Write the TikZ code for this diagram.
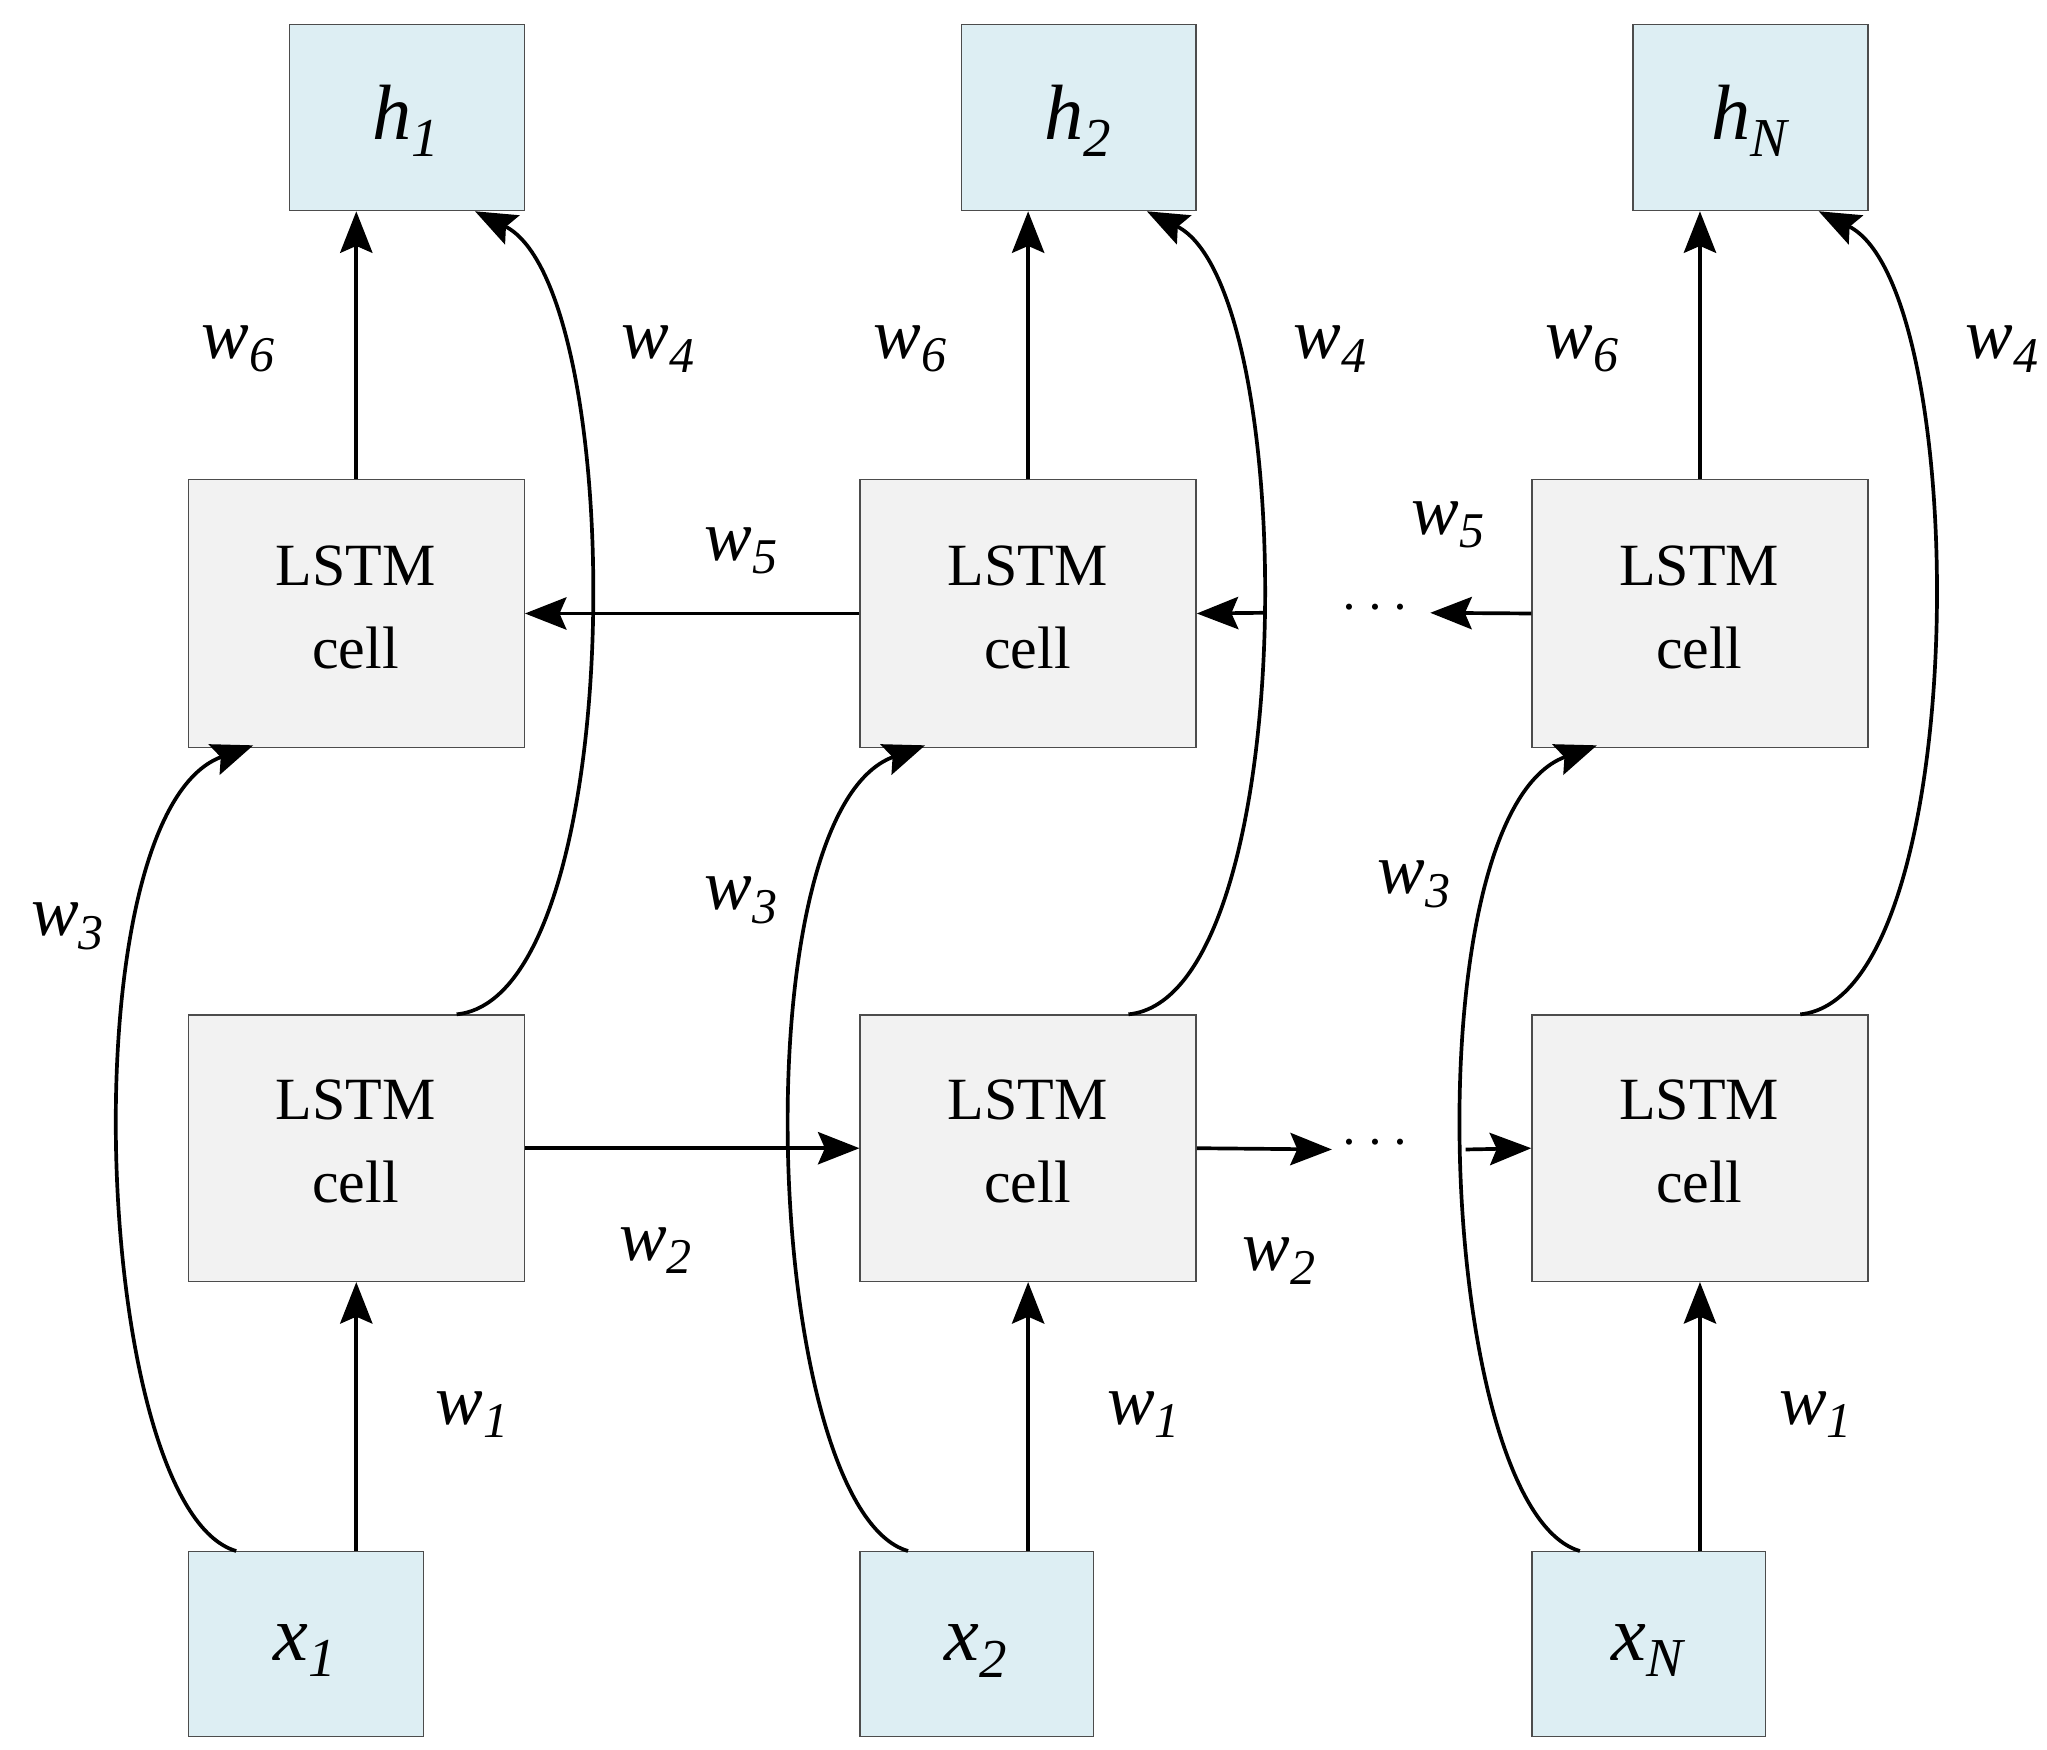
\documentclass[tikz,border=0pt]{standalone}
\usepackage{fontspec}
\setmainfont{Liberation Serif}
\usetikzlibrary{arrows.meta}
\definecolor{lb}{HTML}{DDEEF3}
\definecolor{lg}{HTML}{F2F2F2}
\begin{document}
\begin{tikzpicture}[x=0.02cm,y=-0.02cm,
  io/.style={draw=black!70,line width=0.6pt,fill=lb,inner sep=0,anchor=north west},
  cell/.style={draw=black!70,line width=0.6pt,fill=lg,inner sep=0,anchor=north west},
  con/.style={line width=1.6pt,-{Stealth[length=18pt,width=14pt,inset=3pt]}},
  lab/.style={font=\fontsize{31}{36}\selectfont\itshape},
  big/.style={font=\fontsize{34}{40}\selectfont\itshape},
  txt/.style={font=\fontsize{26}{40}\selectfont,align=center}]
\useasboundingbox (0,0) rectangle (1560,1333);
\foreach \i/\hs/\xs/\xw in {0/1/1/179,1/2/2/178,2/N/N/178}{
  \begin{scope}[xshift=\i*512*0.02cm]
  \node[io,minimum width=179*0.02cm,minimum height=142*0.02cm] (h\i) at (220,18) {};
  \node[big] at (309.5,92) {h\textsubscript{\hs}};
  \node[cell,minimum width=256*0.02cm,minimum height=204*0.02cm] (u\i) at (143,365) {};
  \node[txt] at (271,463) {LSTM\\[-4pt]cell};
  \node[cell,minimum width=256*0.02cm,minimum height=203*0.02cm] (l\i) at (143,773) {};
  \node[txt] at (271,870) {LSTM\\[-4pt]cell};
  \node[io,minimum width=\xw*0.02cm,minimum height=141*0.02cm] (x\i) at (143,1182) {};
  \node[big] at (143+\xw/2,1258) {x\textsubscript{\xs}};
  \draw[con] (x\i.north -| l\i.north) -- (l\i.south);
  \draw[con] (u\i.north) -- (h\i.south -| u\i.north);
  \coordinate (a\i) at (180,1182); \coordinate (b\i) at (193,568);
  \coordinate (c\i) at (348,773); \coordinate (d\i) at (362,161);
  \draw[con] (a\i) .. controls (70,1150) and (50,620) .. (b\i);
  \draw[con] (c\i) .. controls (480,760) and (480,220) .. (d\i);
  \end{scope}}
% horizontal
\draw[con] (l0.east) -- (l1.west);
\coordinate (d1) at (1015,876); \coordinate (d2) at (1117,876);
\draw[con] (l1.east) -- (d1);
\node[font=\fontsize{26}{30}\selectfont] (dotl) at (1048,872) {$\cdots$};
\draw[con] (d2) -- (l2.west);
\draw[con] (u1.west) -- (u0.east);
\coordinate (e1) at (963,467);
\draw[con] (e1) -- (u1.east);
\coordinate (e2) at (1090,467);
\draw[con] (u2.west) -- (e2);
\node[font=\fontsize{26}{30}\selectfont] (dotu) at (1048,464) {$\cdots$};
% labels
\foreach \i in {0,1,2}{
  \node[lab] at (182+\i*512,266) {w\textsubscript{6}};
  \node[lab] at (502+\i*512,266) {w\textsubscript{4}};
  \node[lab] at (360+\i*512,1078) {w\textsubscript{1}};}
\node[lab] at (565,420) {w\textsubscript{5}};
\node[lab] at (1104,400) {w\textsubscript{5}};
\node[lab] at (52,706) {w\textsubscript{3}};
\node[lab] at (565,686) {w\textsubscript{3}};
\node[lab] at (1078,674) {w\textsubscript{3}};
\node[lab] at (500,953) {w\textsubscript{2}};
\node[lab] at (975,961) {w\textsubscript{2}};
\end{tikzpicture}
\end{document}
